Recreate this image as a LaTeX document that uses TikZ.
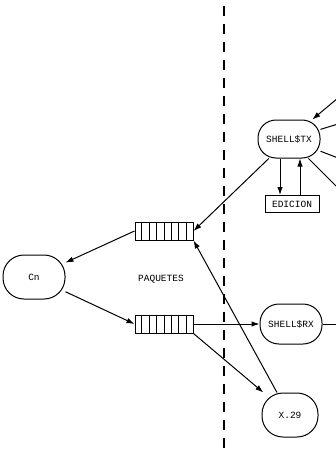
\documentclass[tikz,border=0pt]{standalone}
\usepackage{fontspec}
\setmonofont{Liberation Mono}
\usetikzlibrary{arrows.meta,calc}
\begin{document}
\begin{tikzpicture}[x=1pt,y=-1pt,
  every path/.style={line width=1pt},
  proc/.style={draw, rectangle, rounded corners=18pt, inner sep=0pt, font=\ttfamily\fontsize{9.5}{9.5}\selectfont},
  qbox/.style={draw, rectangle, minimum width=58pt, minimum height=18pt, inner sep=0pt},
  lbl/.style={font=\ttfamily\fontsize{9.5}{9.5}\selectfont},
  arr/.style={-{Latex[length=8pt,width=5.5pt]}},
  sep/.style={dash pattern=on 10pt off 8pt, line width=1.2pt}]
\useasboundingbox (0,0) rectangle (336,452);
\fill[white] (0,0) rectangle (336,452);
% separator
\coordinate (s1) at (224,6);
\coordinate (s2) at (224,452);
\draw[sep] (s1) -- (s2);
% nodes
\node[proc, minimum width=62pt, minimum height=38pt] (tx) at (289,139) {SHELL\$TX};
\node[draw, rectangle, minimum width=54pt, minimum height=17pt, inner sep=0pt, lbl] (ed) at (292,204) {EDICION};
\node[qbox] (q1) at (164,231) {};
\node[qbox] (q2) at (164,324) {};
\node[proc, minimum width=62pt, minimum height=44pt, rounded corners=21pt] (cn) at (34,277) {Cn};
\node[proc, minimum width=62pt, minimum height=40pt, rounded corners=19pt] (rx) at (291,324) {SHELL\$RX};
\node[proc, minimum width=56pt, minimum height=44pt, rounded corners=21pt] (x29) at (290,415) {X.29};
\node[lbl] (paq) at (161,279) {PAQUETES};
% queue stripes
\foreach \q in {q1,q2}
  \foreach \i in {1,...,7}
    \draw ($(\q.north west)!\i/8!(\q.north east)$) -- ($(\q.south west)!\i/8!(\q.south east)$);
% free ends
\coordinate (tin) at (338,98);
\coordinate (t1) at (338,124);
\coordinate (t2) at (338,158);
\coordinate (t3) at (338,188);
\coordinate (r1) at (338,324);
% connectors
\draw[arr] (tin) -- (tx);
\draw (tx) -- (t1);
\draw (tx) -- (t2);
\draw (tx) -- (t3);
\draw[arr] ([xshift=-9pt]tx.south) -- ([xshift=-9pt]tx.south |- ed.north);
\draw[arr] ([xshift=11pt]tx.south |- ed.north) -- ([xshift=11pt]tx.south);
\draw[arr] (tx) -- (q1.east);
\draw[arr] ([xshift=-13pt]x29.north) -- (q1.south east);
\draw[arr] (q1.west) -- (cn);
\draw[arr] (cn) -- (q2.west);
\draw[arr] (q2.east) -- (rx.west);
\draw (rx.east) -- (r1);
\draw[arr] (q2.south east) -- (x29);
\end{tikzpicture}
\end{document}
